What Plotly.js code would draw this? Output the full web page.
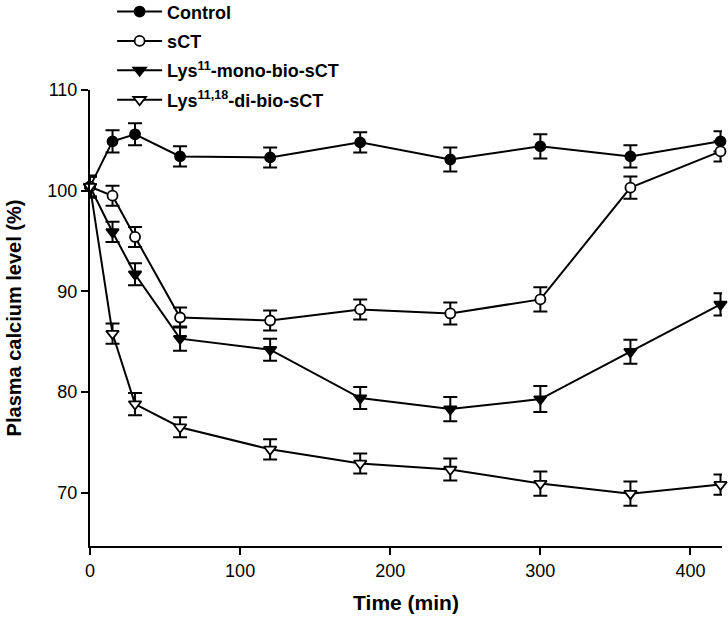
<!DOCTYPE html>
<html>
<head>
<meta charset="utf-8">
<script src="https://cdn.plot.ly/plotly-3.0.1.min.js"></script>
<style>html,body{margin:0;padding:0;background:#fff;}#chart{width:728px;height:621px;}</style>
</head>
<body>
<div id="chart"></div>
<script>
const time = [0, 15, 30, 60, 120, 180, 240, 300, 360, 420];
const seriesNames = ["Control", "sCT", "Lys<sup>11</sup>-mono-bio-sCT", "Lys<sup>11,18</sup>-di-bio-sCT"];
const controlVals = [100.4, 104.9, 105.6, 103.4, 103.3, 104.8, 103.1, 104.4, 103.4, 104.9];
const controlErr  = [1.1, 1.1, 1.1, 1.0, 1.0, 1.0, 1.2, 1.2, 1.1, 1.0];
const sctVals = [100.4, 99.5, 95.4, 87.4, 87.1, 88.2, 87.8, 89.2, 100.3, 103.9];
const sctErr  = [1.0, 1.0, 1.0, 1.0, 1.0, 1.0, 1.1, 1.2, 1.1, 1.0];
const monoVals = [100.4, 95.9, 91.7, 85.3, 84.2, 79.4, 78.3, 79.3, 84.0, 88.7];
const monoErr  = [1.0, 1.0, 1.1, 1.2, 1.1, 1.1, 1.2, 1.3, 1.2, 1.1];
const diVals = [100.4, 85.8, 78.8, 76.5, 74.3, 72.9, 72.3, 70.9, 69.9, 70.8];
const diErr  = [1.0, 1.0, 1.1, 1.0, 1.0, 1.0, 1.1, 1.2, 1.2, 1.0];
const xTicks = [0, 100, 200, 300, 400];
const yTicks = [70, 80, 90, 100, 110];

function mk(name, y, err, symbol, fill, grp) {
  return {
    x: time, y: y, name: name, type: 'scatter', mode: 'lines+markers',
    legendgroup: grp,
    cliponaxis: false,
    line: {color: '#000', width: 2},
    marker: {symbol: symbol, size: symbol.indexOf('triangle') === 0 ? 11 : 10, color: fill, line: {color: '#000', width: 1.8}},
    error_y: {type: 'data', array: err, visible: true, color: '#000', thickness: 2, width: 7}
  };
}
const data = [
  mk(seriesNames[0], controlVals, controlErr, 'circle', '#000', 'g1'),
  mk(seriesNames[1], sctVals, sctErr, 'circle', '#fff', 'g2'),
  mk(seriesNames[2], monoVals, monoErr, 'triangle-down', '#000', 'g3'),
  mk(seriesNames[3], diVals, diErr, 'triangle-down', '#fff', 'g4')
];
const layout = {
  width: 728, height: 621,
  margin: {l: 90, r: 6, t: 90, b: 75, autoexpand: false},
  paper_bgcolor: '#fff', plot_bgcolor: '#fff',
  font: {family: 'Liberation Sans, Arial, sans-serif', color: '#000'},
  showlegend: true,
  legend: {x: 0.035, y: 1.212, xanchor: 'left', yanchor: 'top', bgcolor: 'rgba(0,0,0,0)',
           itemwidth: 45,
           font: {size: 18, family: 'Liberation Sans, Arial, sans-serif', weight: 'bold'}, tracegroupgap: 3},
  xaxis: {
    range: [0, 421], tickvals: xTicks, ticktext: xTicks.map(String),
    showline: true, linewidth: 2, linecolor: '#000', showgrid: false, zeroline: false,
    ticks: 'outside', ticklen: 7, tickwidth: 2, tickcolor: '#000',
    tickfont: {size: 18},
    title: {text: '<b>Time (min)</b>', font: {size: 21}, standoff: 16}
  },
  yaxis: {
    range: [64.7, 110], tickvals: yTicks, ticktext: yTicks.map(String),
    showline: true, linewidth: 2, linecolor: '#000', showgrid: false, zeroline: false,
    ticks: 'outside', ticklen: 7, tickwidth: 2, tickcolor: '#000',
    tickfont: {size: 18},
    title: {text: '<b>Plasma calcium level (%)</b>', font: {size: 20}, standoff: 20}
  }
};
Plotly.newPlot('chart', data, layout, {displayModeBar: false, staticPlot: true});
</script>
</body>
</html>
